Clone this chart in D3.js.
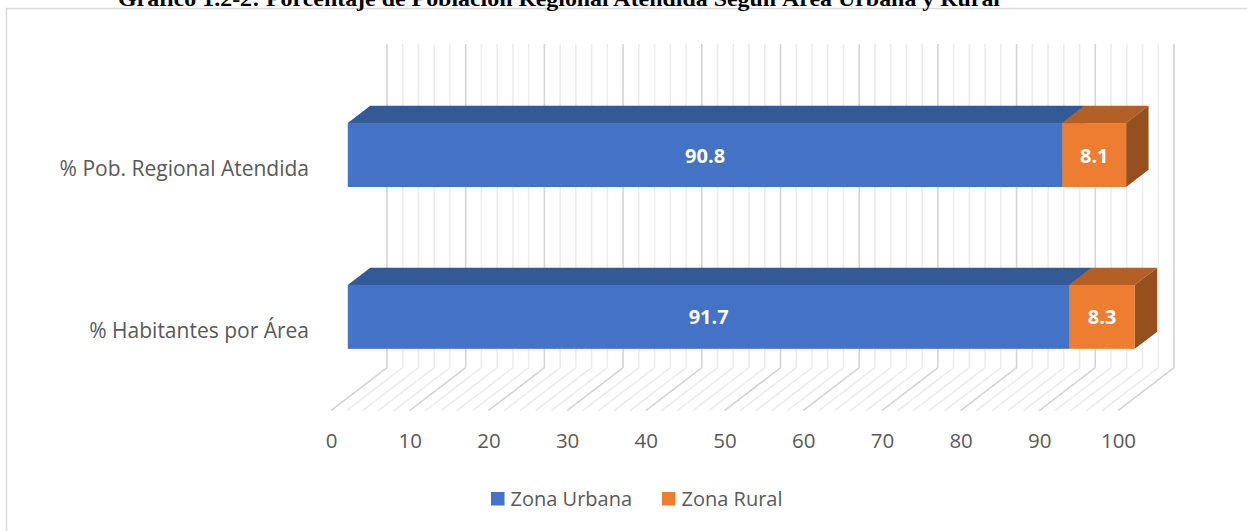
<!DOCTYPE html>
<html>
<head>
<meta charset="utf-8">
<script src="https://cdn.jsdelivr.net/npm/d3@7"></script>
<style>
  html, body { margin: 0; padding: 0; background: #fff; }
  svg { display: block; }
</style>
</head>
<body>
<svg id="chart" width="1247" height="531"></svg>
<script>
const titleText = "Gráfico 1.2-2: Porcentaje de Población Regional Atendida Según Área Urbana y Rural";
const categories = ["% Pob. Regional Atendida", "% Habitantes por Área"];
const seriesNames = ["Zona Urbana", "Zona Rural"];
const urbana = [90.8, 91.7];
const rural = [8.1, 8.3];
const tickValues = [0, 10, 20, 30, 40, 50, 60, 70, 80, 90, 100];
const gridValues = d3.range(0, 101, 2);

const colors = {
  urb: { front: "#4472c4", top: "#345997", side: "#2f5290" },
  rur: { front: "#ed7d31", top: "#b45f23", side: "#95501d" }
};

const svg = d3.select("#chart");
const W = 1247, H = 531;
const font = "'Open Sans', 'Noto Sans', sans-serif";

// projection parameters
const DX = 56, DY = -43;          // offset from front plane to back wall
const wallTop = 44, floorBack = 367.7, floorFront = 410.7;
const barFrontD = 0.3, barBackD = 0.7;

const x = d3.scaleLinear().domain([0, 100]).range([331, 1118]);
const y = d3.scaleBand().domain(categories).range([wallTop - DY, floorFront]).paddingInner(0).paddingOuter(0);
const barFrac = 0.395;

// chart border
svg.append("rect").attr("x", 6.5).attr("y", 8.5).attr("width", W + 10).attr("height", H + 10)
  .attr("fill", "none").attr("stroke", "#d9d9d9").attr("stroke-width", 1.5);

// title (clipped at top, as in the reference)
svg.append("text").attr("x", 559).attr("y", 6).attr("text-anchor", "middle")
  .attr("font-family", "'Liberation Serif', 'DejaVu Serif', serif").attr("font-weight", "bold")
  .attr("font-size", 21).attr("fill", "#000")
  .attr("textLength", 882).attr("lengthAdjust", "spacingAndGlyphs")
  .text(titleText);

// back wall gridlines and floor lines
const grid = svg.append("g");
gridValues.forEach(v => {
  const major = v % 10 === 0;
  const stroke = major ? "#d4d4d4" : "#ececec";
  const bx = x(v) + DX;
  grid.append("line").attr("x1", bx).attr("x2", bx).attr("y1", wallTop).attr("y2", floorBack)
    .attr("stroke", stroke).attr("stroke-width", 1.6);
  grid.append("line").attr("x1", bx).attr("y1", floorBack).attr("x2", x(v)).attr("y2", floorFront)
    .attr("stroke", stroke).attr("stroke-width", 1.6);
});

// bars
const bars = svg.append("g");
categories.forEach((c, i) => {
  const bh = y.bandwidth() * barFrac;
  const cy = y(c) + y.bandwidth() / 2;          // front-plane centre
  const fdx = barFrontD * DX, fdy = barFrontD * DY;
  const ddx = (barBackD - barFrontD) * DX, ddy = (barBackD - barFrontD) * DY;
  const yT = cy - bh / 2 + fdy, yB = cy + bh / 2 + fdy;
  const segs = [
    { v0: 0, v1: urbana[i], c: colors.urb, label: urbana[i] },
    { v0: urbana[i], v1: urbana[i] + rural[i], c: colors.rur, label: rural[i] }
  ];
  segs.forEach(s => {
    const x0 = x(s.v0) + fdx, x1 = x(s.v1) + fdx;
    bars.append("polygon")
      .attr("points", [[x0, yT], [x1, yT], [x1 + ddx, yT + ddy], [x0 + ddx, yT + ddy]].map(p => p.join(",")).join(" "))
      .attr("fill", s.c.top);
    bars.append("polygon")
      .attr("points", [[x1, yT], [x1 + ddx, yT + ddy], [x1 + ddx, yB + ddy], [x1, yB]].map(p => p.join(",")).join(" "))
      .attr("fill", s.c.side);
    bars.append("rect").attr("x", x0).attr("y", yT).attr("width", x1 - x0).attr("height", yB - yT)
      .attr("fill", s.c.front);
    bars.append("text").attr("x", (x0 + x1) / 2).attr("y", (yT + yB) / 2)
      .attr("text-anchor", "middle").attr("dominant-baseline", "central")
      .attr("font-family", font).attr("font-weight", "bold").attr("font-size", 20)
      .attr("fill", "#ffffff").text(d3.format(".1f")(s.label));
  });
});

// category labels
svg.append("g").selectAll("text").data(categories).join("text")
  .attr("x", 309).attr("y", d => y(d) + y.bandwidth() / 2)
  .attr("text-anchor", "end").attr("dominant-baseline", "central")
  .attr("font-family", font).attr("font-size", 21).attr("fill", "#595959")
  .text(d => d);

// value axis (front plane)
const axis = svg.append("g").attr("transform", "translate(0,430.5)")
  .call(d3.axisBottom(x).tickValues(tickValues).tickSize(0).tickPadding(3).tickFormat(d3.format("d")));
axis.select(".domain").remove();
axis.selectAll("text").attr("font-family", font).attr("font-size", 20.5).attr("fill", "#595959");

// legend
const legend = svg.append("g");
const legendX = [491, 662];
seriesNames.forEach((n, i) => {
  legend.append("rect").attr("x", legendX[i]).attr("y", 492).attr("width", 13.5).attr("height", 13.5)
    .attr("fill", i === 0 ? colors.urb.front : colors.rur.front);
  legend.append("text").attr("x", legendX[i] + 19.5).attr("y", 506)
    .attr("font-family", font).attr("font-size", 20).attr("fill", "#595959").text(n);
});
</script>
</body>
</html>
